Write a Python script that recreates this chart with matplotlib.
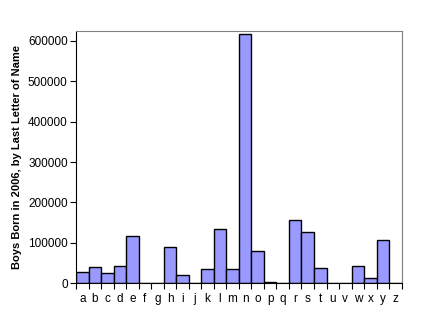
import matplotlib
matplotlib.use('Agg')
import matplotlib.pyplot as plt
import numpy as np

plt.rcParams['font.family'] = ['Liberation Sans', 'DejaVu Sans']

# last letters and how many boys born in 2006 had a name ending in each
letters = list('abcdefghijklmnopqrstuvwxyz')
boys = [27500, 40000, 25000, 43000, 117500, 0, 0, 90000, 20000, 0,
        35000, 135000, 35000, 616000, 80000, 2500, 0, 157500, 127500, 37500,
        0, 0, 42500, 12500, 107500, 0]

fig = plt.figure(figsize=(4.29, 3.14), dpi=100)
ax = fig.add_axes([76 / 429, 1 - 283.3 / 314, (401.7 - 76) / 429, (283.3 - 30.7) / 314])

x = np.arange(len(letters))
ax.bar(x, boys, width=1.0, color='#9999ff', edgecolor='black', linewidth=1.0)

ax.set_xlim(-0.5, len(letters) - 0.5)
ax.set_ylim(0, 625000)
ax.set_yticks(range(0, 600001, 100000))
ax.set_yticklabels([str(v) for v in range(0, 600001, 100000)], fontsize=8.5)

# ticks at the category boundaries, labels in the middle
ax.set_xticks(np.arange(-0.5, len(letters), 1.0))
ax.set_xticklabels([])
ax.set_xticks(x, minor=True)
ax.set_xticklabels(letters, minor=True, fontsize=8.5)
ax.tick_params(axis='x', which='major', length=4, direction='out', width=0.8)
ax.tick_params(axis='x', which='minor', length=0, pad=7)
ax.tick_params(axis='y', length=4, direction='out', width=0.8, pad=2)

for side in ['top', 'right']:
    ax.spines[side].set_color('#808080')
for side in ['left', 'bottom']:
    ax.spines[side].set_color('black')

ax.set_ylabel('Boys Born in 2006, by Last Letter of Name', fontsize=8, fontweight='bold', labelpad=4)

fig.savefig('out.png', dpi=100)
